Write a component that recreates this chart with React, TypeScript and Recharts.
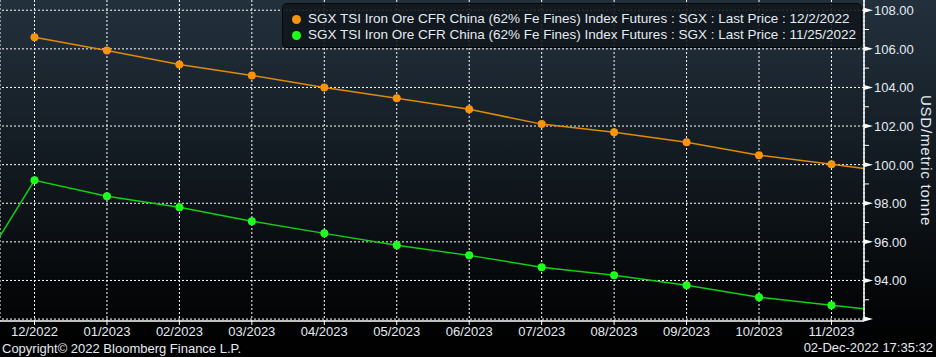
import React from 'react';
import {
  ComposedChart,
  Line,
  XAxis,
  YAxis,
  CartesianGrid,
  ReferenceLine,
} from 'recharts';

// contract months on the x axis
const months = [
  '12/2022', '01/2023', '02/2023', '03/2023', '04/2023', '05/2023',
  '06/2023', '07/2023', '08/2023', '09/2023', '10/2023', '11/2023',
];

// last price curve 12/2/2022
const curveDec2 = [
  106.6, 105.91, 105.19, 104.62, 104.0, 103.44, 102.87, 102.1, 101.68, 101.16, 100.49, 100.02,
];
// last price curve 11/25/2022
const curveNov25 = [
  99.19, 98.36, 97.79, 97.07, 96.44, 95.82, 95.3, 94.68, 94.27, 93.75, 93.13, 92.72,
];

// where the lines run off the edges of the plot
const nov25Lead = 96.3;
const dec2Tail = 99.8;
const nov25Tail = 92.54;

const yTicks = [92, 93, 94, 95, 96, 97, 98, 99, 100, 101, 102, 103, 104, 105, 106, 107, 108];
const yGrid = [92, 94, 96, 98, 100, 102, 104, 106, 108];

const xMin = -0.476;
const xMax = 11.449;

const ORANGE = '#f7930c';
const ORANGE_LINE = '#e08a06';
const GREEN = '#1eff1e';
const GREEN_LINE = '#12d012';
const TEXT = '#e4ebf2';
const FONT = '"Liberation Sans", Arial, sans-serif';

const data = [
  { x: xMin, nov25: nov25Lead, real: false },
  ...months.map((m, i) => ({ x: i, dec2: curveDec2[i], nov25: curveNov25[i], real: true })),
  { x: xMax, dec2: dec2Tail, nov25: nov25Tail, real: false },
];

const makeDot = (fill: string) => (props: any) => {
  const { cx, cy, payload, index } = props;
  if (!payload || !payload.real || cy == null) return <g key={`d-${index}`} />;
  return <circle key={`d-${index}`} cx={cx} cy={cy} r={4} fill={fill} stroke="none" />;
};

const RightTick = (props: any) => {
  const { x, y, payload } = props;
  const v = payload.value;
  if (v % 2 !== 0) {
    return <line x1={x} x2={x + 5} y1={y} y2={y} stroke="#ffffff" strokeWidth={1} />;
  }
  return (
    <g>
      <polygon points={`${x},${y - 2.5} ${x + 9},${y} ${x},${y + 2.5}`} fill="#ffffff" />
      {v !== 92 && (
        <text x={x + 10} y={y} dy={5} fill={TEXT} fontSize={13} fontFamily={FONT}>
          {v.toFixed(2)}
        </text>
      )}
    </g>
  );
};

const YLabel = (props: any) => {
  const vb = props.viewBox || {};
  const cx = vb.x + vb.width - 10;
  const cy = vb.y + vb.height / 2;
  return (
    <text
      x={cx}
      y={cy}
      transform={`rotate(90, ${cx}, ${cy})`}
      textAnchor="middle"
      dy={5}
      fill={TEXT}
      fontSize={15}
      letterSpacing={0.8}
      fontFamily={FONT}
    >
      USD/metric tonne
    </text>
  );
};

export default function App() {
  return (
    <div
      style={{
        position: 'absolute',
        left: 0,
        top: 0,
        width: 936,
        height: 357,
        background: 'linear-gradient(to bottom, #23313d 0px, #141c23 150px, #020304 320px, #000000 357px)',
        overflow: 'hidden',
        fontFamily: FONT,
      }}
    >
      <ComposedChart
        width={936}
        height={357}
        data={data}
        margin={{ top: 0, right: 0, left: 0, bottom: 0 }}
      >
        <CartesianGrid
          horizontal={false}
          stroke="#ffffff"
          strokeDasharray="2 2"
        />
        {yGrid.map((v) => (
          <ReferenceLine key={v} y={v} stroke="#ffffff" strokeDasharray="2 2" ifOverflow="extendDomain" />
        ))}
        <XAxis
          dataKey="x"
          type="number"
          domain={[xMin, xMax]}
          ticks={months.map((_, i) => i)}
          tickFormatter={(i: number) => months[i] ?? ''}
          allowDataOverflow
          height={36}
          axisLine={{ stroke: '#ffffff', strokeWidth: 1.5 }}
          tickLine={{ stroke: '#ffffff' }}
          tickSize={4}
          tickMargin={2}
          tick={{ fill: TEXT, fontSize: 13, fontFamily: FONT }}
          interval={0}
        />
        <YAxis
          orientation="right"
          type="number"
          domain={[91.9, 108.53]}
          ticks={yTicks}
          allowDataOverflow
          width={72}
          axisLine={{ stroke: '#ffffff', strokeWidth: 1.5 }}
          tickLine={false}
          tickSize={0}
          tickMargin={0}
          tick={<RightTick />}
          interval={0}
          label={<YLabel />}
        />
        <Line
          dataKey="dec2"
          type="linear"
          stroke={ORANGE_LINE}
          strokeWidth={1.5}
          dot={makeDot(ORANGE)}
          activeDot={false}
          connectNulls
          isAnimationActive={false}
        />
        <Line
          dataKey="nov25"
          type="linear"
          stroke={GREEN_LINE}
          strokeWidth={1.5}
          dot={makeDot(GREEN)}
          activeDot={false}
          connectNulls
          isAnimationActive={false}
        />
      </ComposedChart>

      <div
        style={{
          position: 'absolute',
          left: 282,
          top: 3,
          width: 580,
          height: 45,
          boxSizing: 'border-box',
          background: 'rgba(16, 22, 27, 0.88)',
          border: '1px solid #05080a',
          borderRadius: 5,
          color: TEXT,
          fontSize: 13.5,
          lineHeight: '16px',
          padding: '7px 0 0 9px',
          whiteSpace: 'nowrap',
        }}
      >
        {[
          { color: ORANGE, text: 'SGX TSI Iron Ore CFR China (62% Fe Fines) Index Futures : SGX : Last Price : 12/2/2022' },
          { color: GREEN, text: 'SGX TSI Iron Ore CFR China (62% Fe Fines) Index Futures : SGX : Last Price : 11/25/2022' },
        ].map((item) => (
          <div key={item.text} style={{ display: 'flex', alignItems: 'center' }}>
            <span
              style={{
                display: 'inline-block',
                width: 9,
                height: 9,
                borderRadius: '50%',
                background: item.color,
                marginRight: 7,
              }}
            />
            <span>{item.text}</span>
          </div>
        ))}
      </div>

      <div style={{ position: 'absolute', left: 2, top: 341, color: TEXT, fontSize: 13 }}>
        Copyright© 2022 Bloomberg Finance L.P.
      </div>
      <div style={{ position: 'absolute', right: 3, top: 340, color: TEXT, fontSize: 13 }}>
        02-Dec-2022 17:35:32
      </div>
    </div>
  );
}
